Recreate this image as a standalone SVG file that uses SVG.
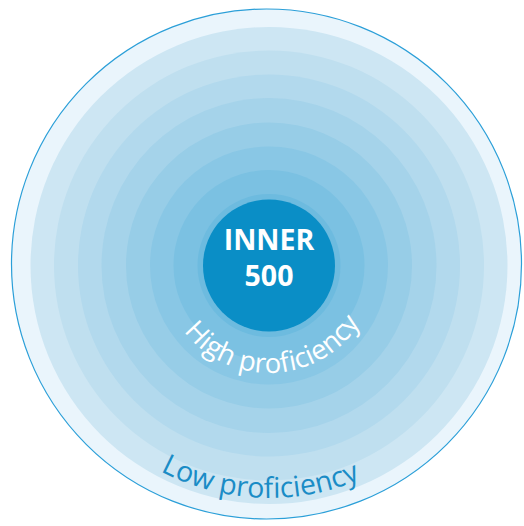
<svg xmlns="http://www.w3.org/2000/svg" width="524" height="526" viewBox="0 0 524 526">
<style>
.inner-label{font-family:"Open Sans","Noto Sans","Liberation Sans",sans-serif;font-weight:700;font-size:28.5px;fill:#ffffff;text-anchor:middle}
.arc-label{font-family:"Open Sans","Noto Sans","Liberation Sans",sans-serif;font-weight:400;text-anchor:middle}
</style>
<defs>
<path id="arcHigh" d="M 161 265 A 108 108 0 0 0 377 265"/>
<path id="arcLow" d="M 36 265 A 233 233 0 0 0 502 265"/>
</defs>
<rect width="524" height="526" fill="#ffffff"/>
<g id="rings">
<circle id="ring-outer" cx="266.5" cy="264" r="255" fill="#eaf5fc" stroke="#2b9fd8" stroke-width="1.2"/>
<circle cx="269" cy="265.5" r="238.5" fill="#cde6f3"/>
<circle cx="269" cy="265.5" r="215" fill="#bfdfef"/>
<circle cx="269" cy="265.5" r="191" fill="#b2d9ed"/>
<circle cx="269" cy="265.5" r="167.5" fill="#a5d3ea"/>
<circle cx="269" cy="265.5" r="143" fill="#97cde7"/>
<circle cx="269" cy="265.5" r="119" fill="#89c7e5"/>
<circle cx="269" cy="265.5" r="95.5" fill="#7bc1e2"/>
<circle cx="269" cy="265.5" r="71.5" fill="#6dbbdf"/>
</g>
<g id="inner-500">
<circle cx="269" cy="265.5" r="66" fill="#0a8ec6"/>
<text class="inner-label" x="269" y="250">INNER</text>
<text class="inner-label" x="269" y="286">500</text>
</g>
<g id="label-high">
<text class="arc-label" fill="#ffffff" font-size="27.5"><textPath href="#arcHigh" startOffset="51.5%">High proficiency</textPath></text>
</g>
<g id="label-low">
<text class="arc-label" fill="#1a8cc6" font-size="28.5"><textPath href="#arcLow" startOffset="48.7%">Low proficiency</textPath></text>
</g>
<g id="connectors"/>
</svg>
